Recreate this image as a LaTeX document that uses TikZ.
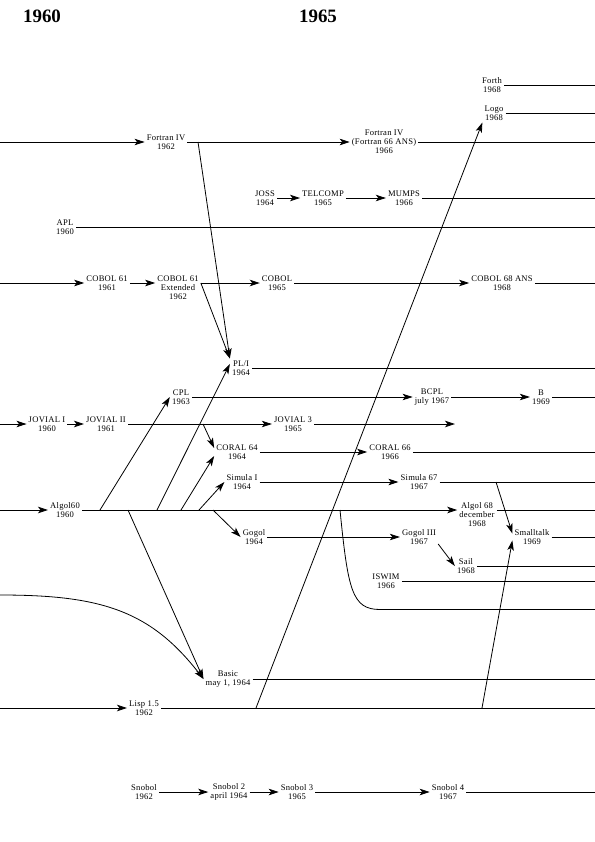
\documentclass[tikz,border=0pt]{standalone}
\usepackage{fontspec}
\setmainfont{Liberation Serif}
\newfontfamily\chartfont[LetterSpace=3]{Liberation Serif}
\usetikzlibrary{arrows.meta}

\begin{document}
\begin{tikzpicture}[
  x=1bp, y=-1bp,
  every node/.style={align=center, inner sep=2bp, font=\chartfont\fontsize{8.6}{9}\selectfont},
  year/.style={font=\bfseries\fontsize{19}{20}\selectfont},
  ln/.style={line width=0.8bp},
  arr/.style={-{Stealth[length=10bp, width=6.5bp, inset=2.5bp]}, line width=0.8bp}
]
\useasboundingbox (0,0) rectangle (595,842);

\node[year] (y60) at (42,16) {1960};
\node[year] (y65) at (318,16) {1965};

\node (forth) at (492,85) {Forth\\1968};
\node (logo) at (494,113) {Logo\\1968};
\node (fort62) at (166,142) {Fortran IV\\1962};
\node (fort66) at (384,142) {Fortran IV\\(Fortran 66 ANS)\\1966};
\node (joss) at (265,198) {JOSS\\1964};
\node (telcomp) at (323,198) {TELCOMP\\1965};
\node (mumps) at (404,198) {MUMPS\\1966};
\node (apl) at (65,227) {APL\\1960};
\node (cob61) at (107,283) {COBOL 61\\1961};
\node (cobx) at (178,288) {COBOL 61\\Extended\\1962};
\node (cob65) at (277,283) {COBOL\\1965};
\node (cob68) at (502,283) {COBOL 68 ANS\\1968};
\node (pli) at (241,368) {PL/I\\1964};
\node (cpl) at (181,397) {CPL\\1963};
\node (bcpl) at (432,397) {BCPL\\july 1967};
\node (b) at (541,397) {B\\1969};
\node (jov1) at (47,424) {JOVIAL I\\1960};
\node (jov2) at (106,424) {JOVIAL II\\1961};
\node (jov3) at (293,424) {JOVIAL 3\\1965};
\node (coral64) at (237,452) {CORAL 64\\1964};
\node (coral66) at (390,452) {CORAL 66\\1966};
\node (simula1) at (242,482) {Simula I\\1964};
\node (simula67) at (419,482) {Simula 67\\1967};
\node (algol60) at (65,510) {Algol60\\1960};
\node (algol68) at (477,515) {Algol 68\\december\\1968};
\node (gogol) at (254,537) {Gogol\\1964};
\node (gogol3) at (419,537) {Gogol III\\1967};
\node (smalltalk) at (532,537) {Smalltalk\\1969};
\node (sail) at (466,566) {Sail\\1968};
\node (iswim) at (386,581) {ISWIM\\1966};
\node (basic) at (228,679) {Basic\\may 1, 1964};
\node (lisp) at (144,708) {Lisp 1.5\\1962};
\node (snobol) at (144,792) {Snobol\\1962};
\node (snobol2) at (229,792) {Snobol 2\\april 1964};
\node (snobol3) at (297,792) {Snobol 3\\1965};
\node (snobol4) at (448,792) {Snobol 4\\1967};

\coordinate (forthR) at (595,85);
\coordinate (logoR) at (595,113);
\coordinate (fortL) at (0,142);
\coordinate (fortR) at (595,142);
\coordinate (mumpsR) at (595,198);
\coordinate (aplR) at (595,227);
\coordinate (cobL) at (0,283);
\coordinate (cobR) at (595,283);
\coordinate (pliR) at (595,368);
\coordinate (cplR) at (595,397);
\coordinate (jovL) at (0,424);
\coordinate (jovE) at (455,424);
\coordinate (coralR) at (595,452);
\coordinate (simulaR) at (595,482);
\coordinate (algolL) at (0,510);
\coordinate (algolR) at (595,510);
\coordinate (gogolR) at (595,537);
\coordinate (sailR) at (595,566);
\coordinate (iswimR) at (595,581);
\coordinate (basicL) at (0,595);
\coordinate (pascalR) at (595,609);
\coordinate (basicR) at (595,679);
\coordinate (lispL) at (0,708);
\coordinate (lispR) at (595,708);
\coordinate (snobolR) at (595,792);

\coordinate (fj) at (198,142);
\coordinate (jj) at (203,424);
\coordinate (sj) at (496,482);
\coordinate (a1) at (100,510);
\coordinate (a2) at (128,510);
\coordinate (a3) at (157,510);
\coordinate (a4) at (181,510);
\coordinate (a5) at (199,510);
\coordinate (a6) at (213,510);
\coordinate (a7) at (340,510);
\coordinate (lj1) at (256,708);
\coordinate (lj2) at (482,708);

\draw[ln] (forth) -- (forthR);
\draw[ln] (logo) -- (logoR);
\draw[arr] (fortL) -- (fort62);
\draw[arr] (fort62) -- (fort66);
\draw[ln] (fort66) -- (fortR);
\draw[arr] (fj) -- (pli.north west);
\draw[arr] (joss) -- (telcomp);
\draw[arr] (telcomp) -- (mumps);
\draw[ln] (mumps) -- (mumpsR);
\draw[ln] (apl) -- (aplR);
\draw[arr] (cobL) -- (cob61);
\draw[arr] (cob61) -- (cob61 -| cobx.west);
\draw[arr] (cobx.east |- cob65) -- (cob65);
\draw[arr] (cobx.east |- cob65) -- (pli.north west);
\draw[arr] (cob65) -- (cob68);
\draw[ln] (cob68) -- (cobR);
\draw[ln] (pli) -- (pliR);
\draw[arr] (cpl) -- (bcpl);
\draw[arr] (bcpl) -- (b);
\draw[ln] (b) -- (cplR);
\draw[arr] (jovL) -- (jov1);
\draw[arr] (jov1) -- (jov2);
\draw[arr] (jov2) -- (jov3);
\draw[arr] (jov3) -- (jovE);
\draw[arr] (jj) -- (coral64.170);
\draw[arr] (coral64) -- (coral66);
\draw[ln] (coral66) -- (coralR);
\draw[arr] (simula1) -- (simula67);
\draw[ln] (simula67) -- (simulaR);
\draw[arr] (sj) -- (smalltalk.170);
\draw[arr] (algolL) -- (algol60);
\draw[arr] (algol60) -- (algol60 -| algol68.west);
\draw[ln] (algol68.east |- algolR) -- (algolR);
\draw[arr] (a1) -- (cpl.west);
\draw[arr] (a2) -- (basic.west);
\draw[arr] (a3) -- (pli.160);
\draw[arr] (a4) -- (coral64.190);
\draw[arr] (a5) -- (simula1.west);
\draw[arr] (a6) -- (gogol.west);
\draw[ln] (a7) .. controls (348,590) and (352,609.5) .. (380,609.5) -- (pascalR |- 0,609.5);
\draw[arr] (gogol) -- (gogol3);
\draw[ln] (smalltalk) -- (gogolR);
\draw[arr] (gogol3.-20) -- (sail.west);
\draw[ln] (sail) -- (sailR);
\draw[ln] (iswim) -- (iswimR);
\draw[arr] (basicL) .. controls (100,595) and (150,610) .. (basic.west);
\draw[ln] (basic) -- (basicR);
\draw[arr] (lispL) -- (lisp);
\draw[ln] (lisp) -- (lispR);
\draw[arr] (lj1) -- (logo.south west);
\draw[arr] (lj2) -- (smalltalk.190);
\draw[arr] (snobol) -- (snobol2);
\draw[arr] (snobol2) -- (snobol3);
\draw[arr] (snobol3) -- (snobol4);
\draw[ln] (snobol4) -- (snobolR);
\end{tikzpicture}
\end{document}
